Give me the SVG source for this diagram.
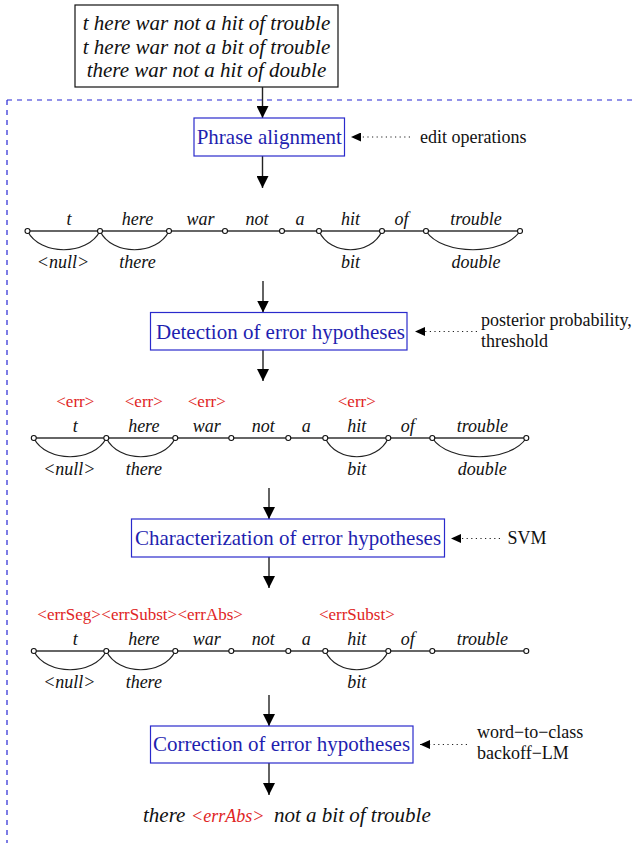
<svg xmlns="http://www.w3.org/2000/svg" width="634" height="843" viewBox="0 0 634 843">
<style>
.it{font-family:"Liberation Serif",serif;font-style:italic;font-size:18px;fill:#111;text-anchor:middle}
.top{font-family:"Liberation Serif",serif;font-style:italic;font-size:21px;fill:#111;text-anchor:middle}
.proc{font-family:"Liberation Serif",serif;font-size:21px;fill:#1f1fb0;text-anchor:middle}
.side{font-family:"Liberation Serif",serif;font-size:18px;fill:#111}
.red{font-family:"Liberation Serif",serif;font-size:17px;fill:#e02424;text-anchor:middle}
.box{fill:#fff;stroke:#2a2acc;stroke-width:1.2}
.arrow{stroke:#222;stroke-width:1.4;fill:none;marker-end:url(#ah)}
.dot{stroke:#222;stroke-width:1.2;fill:none;stroke-dasharray:1.2 3.4;marker-end:url(#ahs)}
.lat{stroke:#333;stroke-width:1.4;fill:none}
.arc{stroke:#222;stroke-width:1.2;fill:none}
.nd{fill:#fff;stroke:#111;stroke-width:1.1}
</style>
<defs>
<marker id="ah" viewBox="0 0 12 12" refX="12" refY="6" markerWidth="12" markerHeight="12" markerUnits="userSpaceOnUse" orient="auto">
<path d="M0,0 L12,6 L0,12 Z" fill="#000"/>
</marker>
<marker id="ahs" viewBox="0 0 10 9" refX="10" refY="4.5" markerWidth="10" markerHeight="9" markerUnits="userSpaceOnUse" orient="auto">
<path d="M0,0 L10,4.5 L0,9 Z" fill="#000"/>
</marker>
</defs>

<g id="frame">
<path d="M7,100 H634 M7,100 V843" stroke="#2626d4" stroke-width="1.2" stroke-dasharray="5 5" fill="none"/>
</g>

<g id="input">
<rect x="75" y="5" width="263" height="82" fill="#fff" stroke="#111" stroke-width="1.2"/>
<text class="top" x="206.5" y="30">t here war not a hit of trouble</text>
<text class="top" x="206.5" y="53.5">t here war not a bit of trouble</text>
<text class="top" x="206.5" y="77">there war not a hit of double</text>
</g>

<g id="connectors">
<line class="arrow" x1="262.5" y1="87" x2="262.5" y2="118"/>
<line class="arrow" x1="262.5" y1="156" x2="262.5" y2="188"/>
<line class="arrow" x1="263" y1="281" x2="263" y2="312.5"/>
<line class="arrow" x1="263" y1="350" x2="263" y2="381"/>
<line class="arrow" x1="269" y1="488" x2="269" y2="519"/>
<line class="arrow" x1="269" y1="557" x2="269" y2="588"/>
<line class="arrow" x1="269" y1="695" x2="269" y2="726"/>
<line class="arrow" x1="269" y1="763" x2="269" y2="795"/>
<line class="dot" x1="410" y1="137" x2="351" y2="137"/>
<line class="dot" x1="477" y1="331.5" x2="415" y2="331.5"/>
<line class="dot" x1="500" y1="538.5" x2="451" y2="538.5"/>
<line class="dot" x1="467" y1="744.5" x2="420" y2="744.5"/>
</g>

<g id="phrase-alignment">
<rect class="box" x="194" y="118" width="150.5" height="38"/>
<text class="proc" x="269.3" y="144">Phrase alignment</text>
</g>
<g id="edit-operations">
<text class="side" x="420" y="143">edit operations</text>
</g>

<g id="lattice1">
<line class="lat" x1="27.5" y1="231" x2="520" y2="231"/>
<path class="arc" d="M27.5,231 C40,256 87.5,256 100,231 M100,231 C112,256 157,256 169,231 M319,231 C330,256 371,256 382,231 M426,231 C442,256 504,256 520,231"/>
<g class="nodes">
<circle class="nd" cx="27.5" cy="231" r="2.5"/><circle class="nd" cx="100" cy="231" r="2.5"/><circle class="nd" cx="169" cy="231" r="2.5"/><circle class="nd" cx="225" cy="231" r="2.5"/><circle class="nd" cx="282" cy="231" r="2.5"/><circle class="nd" cx="319" cy="231" r="2.5"/><circle class="nd" cx="382" cy="231" r="2.5"/><circle class="nd" cx="426" cy="231" r="2.5"/><circle class="nd" cx="520" cy="231" r="2.5"/>
</g>
<text class="it" x="69" y="225">t</text><text class="it" x="137.5" y="225">here</text><text class="it" x="200.5" y="225">war</text><text class="it" x="257" y="225">not</text><text class="it" x="300" y="225">a</text><text class="it" x="350.5" y="225">hit</text><text class="it" x="401.5" y="225">of</text><text class="it" x="476" y="225">trouble</text>
<text class="it" x="63" y="268">&lt;null&gt;</text><text class="it" x="137.5" y="268">there</text><text class="it" x="350.5" y="268">bit</text><text class="it" x="476" y="268">double</text>
</g>

<g id="detection">
<rect class="box" x="150.5" y="312.5" width="256.5" height="37.5"/>
<text class="proc" x="280.5" y="338.5">Detection of error hypotheses</text>
</g>
<g id="posterior">
<text class="side" x="481" y="326">posterior probability,</text>
<text class="side" x="481" y="347">threshold</text>
</g>

<g id="lattice2" transform="translate(6.3,207)">
<line class="lat" x1="27.5" y1="231" x2="520" y2="231"/>
<path class="arc" d="M27.5,231 C40,256 87.5,256 100,231 M100,231 C112,256 157,256 169,231 M319,231 C330,256 371,256 382,231 M426,231 C442,256 504,256 520,231"/>
<g class="nodes">
<circle class="nd" cx="27.5" cy="231" r="2.5"/><circle class="nd" cx="100" cy="231" r="2.5"/><circle class="nd" cx="169" cy="231" r="2.5"/><circle class="nd" cx="225" cy="231" r="2.5"/><circle class="nd" cx="282" cy="231" r="2.5"/><circle class="nd" cx="319" cy="231" r="2.5"/><circle class="nd" cx="382" cy="231" r="2.5"/><circle class="nd" cx="426" cy="231" r="2.5"/><circle class="nd" cx="520" cy="231" r="2.5"/>
</g>
<text class="red" x="69" y="200">&lt;err&gt;</text><text class="red" x="137.5" y="200">&lt;err&gt;</text><text class="red" x="200.5" y="200">&lt;err&gt;</text><text class="red" x="350.5" y="200">&lt;err&gt;</text>
<text class="it" x="69" y="225">t</text><text class="it" x="137.5" y="225">here</text><text class="it" x="200.5" y="225">war</text><text class="it" x="257" y="225">not</text><text class="it" x="300" y="225">a</text><text class="it" x="350.5" y="225">hit</text><text class="it" x="401.5" y="225">of</text><text class="it" x="476" y="225">trouble</text>
<text class="it" x="63" y="268">&lt;null&gt;</text><text class="it" x="137.5" y="268">there</text><text class="it" x="350.5" y="268">bit</text><text class="it" x="476" y="268">double</text>
</g>

<g id="characterization">
<rect class="box" x="131.5" y="519" width="313" height="38"/>
<text class="proc" x="288" y="545">Characterization of error hypotheses</text>
</g>
<g id="svm">
<text class="side" x="507.5" y="544">SVM</text>
</g>

<g id="lattice3" transform="translate(6.3,420)">
<line class="lat" x1="27.5" y1="231" x2="520" y2="231"/>
<path class="arc" d="M27.5,231 C40,256 87.5,256 100,231 M100,231 C112,256 157,256 169,231 M319,231 C330,256 371,256 382,231"/>
<g class="nodes">
<circle class="nd" cx="27.5" cy="231" r="2.5"/><circle class="nd" cx="100" cy="231" r="2.5"/><circle class="nd" cx="169" cy="231" r="2.5"/><circle class="nd" cx="225" cy="231" r="2.5"/><circle class="nd" cx="282" cy="231" r="2.5"/><circle class="nd" cx="319" cy="231" r="2.5"/><circle class="nd" cx="382" cy="231" r="2.5"/><circle class="nd" cx="426" cy="231" r="2.5"/><circle class="nd" cx="520" cy="231" r="2.5"/>
</g>
<text class="red" x="31" y="200" style="text-anchor:start">&lt;errSeg&gt;</text><text class="red" x="95" y="200" style="text-anchor:start">&lt;errSubst&gt;</text><text class="red" x="171.2" y="200" style="text-anchor:start">&lt;errAbs&gt;</text><text class="red" x="350.5" y="200">&lt;errSubst&gt;</text>
<text class="it" x="69" y="225">t</text><text class="it" x="137.5" y="225">here</text><text class="it" x="200.5" y="225">war</text><text class="it" x="257" y="225">not</text><text class="it" x="300" y="225">a</text><text class="it" x="350.5" y="225">hit</text><text class="it" x="401.5" y="225">of</text><text class="it" x="476" y="225">trouble</text>
<text class="it" x="63" y="268">&lt;null&gt;</text><text class="it" x="137.5" y="268">there</text><text class="it" x="350.5" y="268">bit</text>
</g>

<g id="correction">
<rect class="box" x="150.5" y="726" width="262.5" height="37"/>
<text class="proc" x="281.5" y="751">Correction of error hypotheses</text>
</g>
<g id="lm">
<text class="side" x="477" y="738">word−to−class</text>
<text class="side" x="477" y="759">backoff−LM</text>
</g>

<g id="output">
<text class="top" x="143" y="821.5" style="text-anchor:start">there</text>
<text class="red" x="191" y="821.5" style="text-anchor:start;font-style:italic;font-size:18px">&lt;errAbs&gt;</text>
<text class="top" x="274" y="821.5" style="text-anchor:start">not a bit of trouble</text>
</g>
</svg>
